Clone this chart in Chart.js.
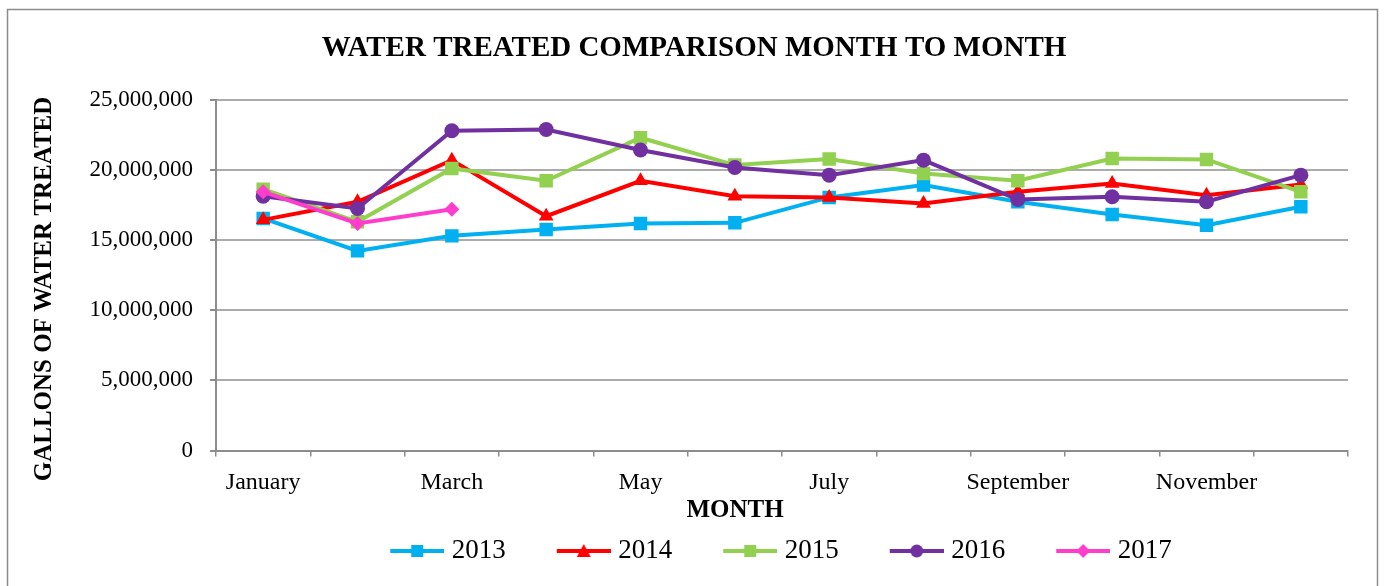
<!DOCTYPE html>
<html>
<head>
<meta charset="utf-8">
<title>Water Treated Comparison</title>
<script src="https://cdn.jsdelivr.net/npm/chart.js@4.4.0/dist/chart.umd.min.js"></script>
<style>
  body { margin: 0; background: #fff; }
  #wrap { position: relative; width: 1387px; height: 586px; }
</style>
</head>
<body>
<div id="wrap"><canvas id="waterChart"></canvas></div>
<script>
const months = ['January', 'February', 'March', 'April', 'May', 'June', 'July',
                'August', 'September', 'October', 'November', 'December'];
const yearLabels = ['2013', '2014', '2015', '2016', '2017'];

const gallons2013 = [16550000, 14240000, 15310000, 15760000, 16190000, 16240000,
                     18050000, 18930000, 17740000, 16830000, 16070000, 17380000];
const gallons2014 = [16450000, 17740000, 20710000, 16710000, 19240000, 18140000,
                     18050000, 17620000, 18450000, 19050000, 18210000, 18980000];
const gallons2015 = [18640000, 16310000, 20120000, 19240000, 22310000, 20360000,
                     20790000, 19760000, 19240000, 20830000, 20760000, 18450000];
const gallons2016 = [18140000, 17260000, 22810000, 22900000, 21430000, 20190000,
                     19640000, 20710000, 17900000, 18100000, 17740000, 19640000];
const gallons2017 = [18450000, 16190000, 17210000, null, null, null,
                     null, null, null, null, null, null];

const yTicks = [0, 5000000, 10000000, 15000000, 20000000, 25000000];

const colors = ['#00B0F0', '#FF0000', '#92D050', '#7030A0', '#FF3DCC'];
const markers = ['rect', 'triangle', 'rect', 'circle', 'rectRot'];
const markerSizes = [9.5, 8.5, 9.5, 7.5, 7.5];

const serif = "'Liberation Serif', 'Times New Roman', serif";
Chart.defaults.font.family = serif;
Chart.defaults.color = '#000';

// line + marker picture for the legend; the line sits in the right part
// of the canvas so it runs close to the year text
function legendIcon(color, style) {
    const c = document.createElement('canvas');
    c.width = 70;
    c.height = 20;
    const ctx = c.getContext('2d');
    const mx = 43;
    ctx.strokeStyle = color;
    ctx.fillStyle = color;
    ctx.lineWidth = 4;
    ctx.lineCap = 'butt';
    ctx.beginPath();
    ctx.moveTo(16, 10);
    ctx.lineTo(70, 10);
    ctx.stroke();
    ctx.beginPath();
    if (style === 'rect') {
        ctx.rect(mx - 6, 4, 12, 12);
    } else if (style === 'triangle') {
        ctx.moveTo(mx, 3);
        ctx.lineTo(mx + 7, 16);
        ctx.lineTo(mx - 7, 16);
        ctx.closePath();
    } else if (style === 'circle') {
        ctx.arc(mx, 10, 6.5, 0, Math.PI * 2);
    } else {
        ctx.moveTo(mx, 3);
        ctx.lineTo(mx + 7, 10);
        ctx.lineTo(mx, 17);
        ctx.lineTo(mx - 7, 10);
        ctx.closePath();
    }
    ctx.fill();
    return c;
}

const allSeries = [gallons2013, gallons2014, gallons2015, gallons2016, gallons2017];

const datasets = allSeries.map((vals, i) => ({
    label: yearLabels[i],
    data: vals,
    borderColor: colors[i],
    backgroundColor: colors[i],
    borderWidth: 4,
    pointStyle: markers[i],
    pointRadius: markerSizes[i],
    pointHoverRadius: markerSizes[i],
    pointBorderWidth: 0,
    tension: 0,
    spanGaps: false,
    order: allSeries.length - i   // later years sit on top, like the original
}));

const chartDecor = {
    id: 'chartDecor',
    afterLayout(chart) {
        // title centred on the whole frame, legend nudged a little left
        chart.titleBlock.left = 0;
        chart.titleBlock.right = chart.width + 1;
        chart.legend.left -= 6;
        chart.legend.right -= 6;
    },
    beforeDraw(chart) {
        const ctx = chart.ctx;
        ctx.save();
        ctx.fillStyle = '#fff';
        ctx.fillRect(0, 0, chart.width, chart.height);
        ctx.restore();
    },
    afterDraw(chart) {
        const ctx = chart.ctx;
        ctx.save();
        ctx.strokeStyle = '#8C8C8C';
        ctx.lineWidth = 1.5;
        ctx.strokeRect(7.5, 9.5, 1370, 620);

        ctx.fillStyle = '#000';
        ctx.textAlign = 'center';
        ctx.textBaseline = 'middle';
        ctx.font = 'bold 25px ' + serif;
        ctx.fillText('MONTH', 735, 511);

        ctx.translate(45, 289);
        ctx.rotate(-Math.PI / 2);
        ctx.font = 'bold 25px ' + serif;
        ctx.fillText('GALLONS OF WATER TREATED', 0, 0);
        ctx.restore();
    }
};

new Chart(document.getElementById('waterChart'), {
    type: 'line',
    data: {
        labels: months,
        datasets: datasets
    },
    options: {
        responsive: true,
        maintainAspectRatio: false,
        animation: false,
        layout: {
            padding: { left: 0, right: 39, top: 0, bottom: 11.5 }
        },
        plugins: {
            title: {
                display: true,
                text: 'WATER TREATED COMPARISON MONTH TO MONTH',
                color: '#000',
                font: { size: 29, weight: 'bold', family: serif },
                padding: { top: 31, bottom: 34.2 }
            },
            legend: {
                position: 'bottom',
                fullSize: false,
                labels: {
                    usePointStyle: true,
                    pointStyleWidth: 58,
                    padding: 41,
                    color: '#000',
                    font: { size: 27, family: serif },
                    generateLabels: chart => chart.data.datasets.map((ds, i) => ({
                        text: ds.label,
                        fillStyle: ds.borderColor,
                        strokeStyle: ds.borderColor,
                        lineWidth: 0,
                        pointStyle: legendIcon(ds.borderColor, markers[i]),
                        hidden: false,
                        datasetIndex: i,
                        fontColor: '#000'
                    }))
                }
            },
            tooltip: { enabled: false }
        },
        scales: {
            x: {
                offset: true,
                afterFit: scale => { scale.height = 46; },
                grid: {
                    offset: true,
                    drawOnChartArea: false,
                    drawTicks: true,
                    tickLength: 6,
                    tickColor: '#8C8C8C',
                    lineWidth: 1.5
                },
                border: { color: '#8C8C8C', width: 2 },
                ticks: {
                    autoSkip: false,
                    maxRotation: 0,
                    padding: 12,
                    color: '#000',
                    font: { size: 24, family: serif },
                    callback: (val, i) => (i % 2 === 0 ? months[i] : '')
                }
            },
            y: {
                min: yTicks[0],
                max: yTicks[yTicks.length - 1],
                afterFit: scale => { scale.width = 216; },
                afterBuildTicks: scale => { scale.ticks = yTicks.map(v => ({ value: v })); },
                grid: {
                    color: '#ABABAB',
                    lineWidth: 2,
                    tickLength: 6,
                    tickColor: '#8C8C8C'
                },
                border: { color: '#8C8C8C', width: 2 },
                ticks: {
                    padding: 17,
                    color: '#000',
                    font: { size: 23, family: serif },
                    callback: v => v.toLocaleString('en-US')
                }
            }
        }
    },
    plugins: [chartDecor]
});
</script>
</body>
</html>
